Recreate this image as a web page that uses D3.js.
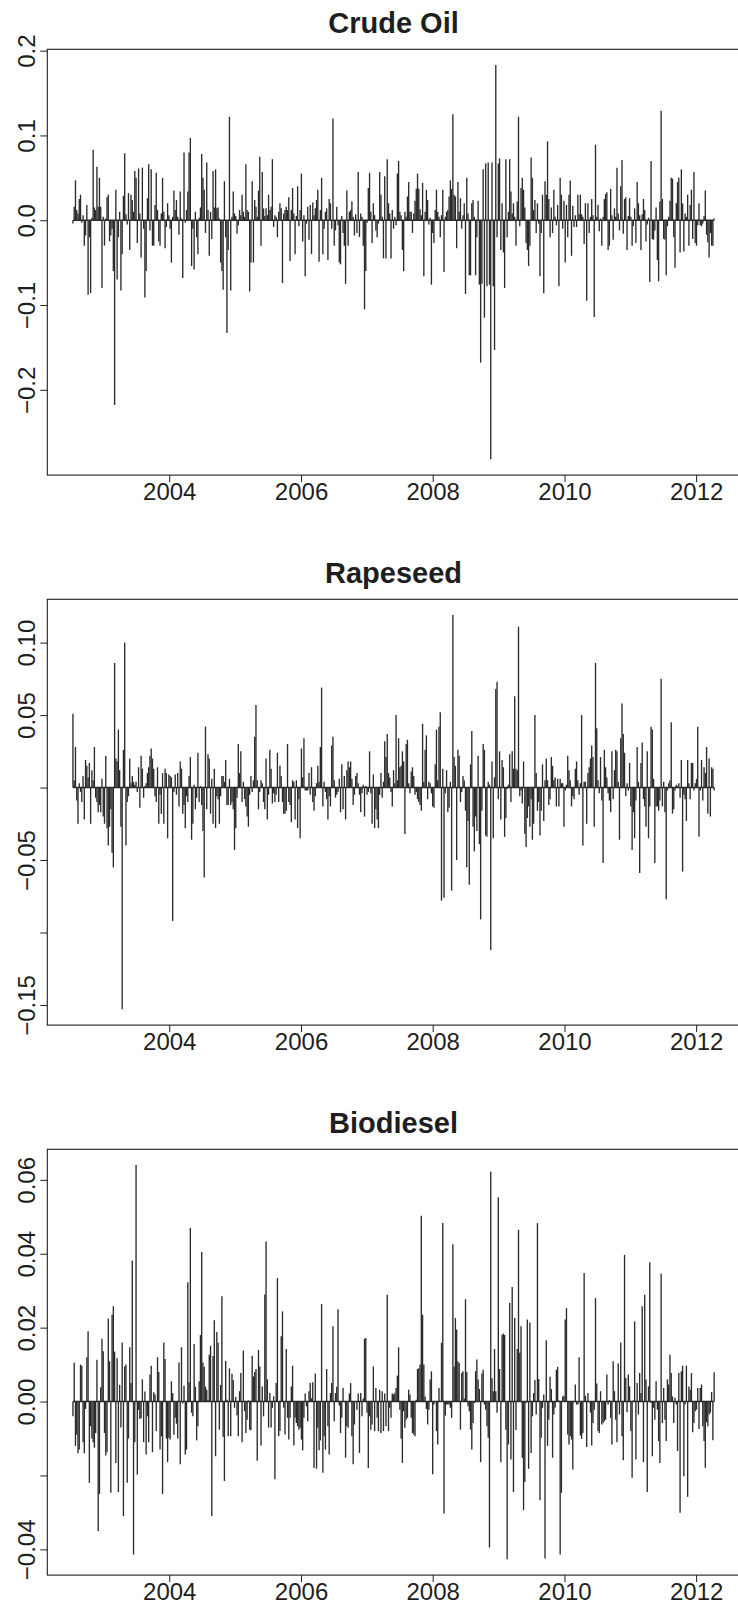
<!DOCTYPE html>
<html><head><meta charset="utf-8">
<script src="https://cdn.jsdelivr.net/npm/d3@7"></script>
<style>body{margin:0;background:#fff}</style>
</head><body>
<svg id="chart" width="738" height="1607"></svg>
<script>
const titles = ["Crude Oil", "Rapeseed", "Biodiesel"];
const startDate = new Date(2002, 6, 16); // first weekly observation

const crudeOil = [
-0.004,0.016,0.047,0.012,0.008,0.025,0.03,-0.003,0.006,-0.03,
-0.018,0.018,-0.088,-0.02,-0.086,0.003,0.083,0.015,0.012,0.063,
0.016,0.05,0.016,-0.08,0.004,-0.03,0.002,0.027,0.03,-0.025,
-0.018,-0.01,-0.06,-0.218,0.036,-0.07,-0.02,0.01,-0.083,-0.04,
0.029,0.079,0.007,-0.005,0.032,-0.035,0.03,0.024,0.01,0.058,
0.05,-0.027,0.061,0.008,-0.044,0.062,-0.01,-0.091,-0.06,0.026,
0.066,-0.012,0.06,-0.03,-0.03,0.018,0.056,0.012,-0.025,-0.03,
0.008,0.05,0.01,-0.033,-0.008,0.02,0.006,-0.01,-0.05,0.004,
0.035,0.012,0.024,0.004,-0.017,0.034,0.002,-0.068,0.08,-0.003,
0.012,0.034,0.08,0.097,-0.054,-0.01,-0.058,0.01,-0.02,-0.04,
0.003,0.015,0.078,0.05,0.036,-0.015,0.068,0.012,-0.042,0.01,
-0.022,0.058,0.015,0.06,0.014,0.015,0.002,-0.05,-0.06,-0.082,
0.046,-0.02,-0.133,-0.035,0.122,-0.083,0.004,0.034,0.008,0.005,
-0.016,-0.006,0.012,0.006,0.03,0.01,0.004,0.066,0.012,0.01,
-0.084,-0.05,0.046,-0.05,0.024,0.016,0.004,0.035,0.075,-0.03,
0.057,0.014,0.005,0.014,0.006,0.03,0.012,0.016,0.072,-0.008,
0.006,0.004,-0.02,0.01,0.02,0.014,-0.074,0.008,0.012,0.016,
0.012,0.027,-0.048,0.012,0.038,0.008,-0.04,0.005,0.04,-0.007,
0.012,0.055,-0.025,0.006,-0.066,-0.004,0.016,-0.023,0.018,-0.04,
0.021,0.006,0.014,0.024,0.036,-0.049,0.012,0.05,-0.04,-0.01,
0.01,0.014,-0.047,0.025,0.02,-0.01,0.12,-0.03,-0.012,0.016,
-0.006,-0.05,-0.052,0.005,-0.015,-0.03,-0.075,0.035,-0.03,0.01,
0.012,0.022,0.004,-0.018,0.007,-0.015,0.057,-0.02,0.008,0.004,
-0.03,-0.105,-0.06,-0.003,0.038,0.056,0.01,-0.027,0.02,0.006,
-0.012,-0.02,-0.004,0.057,0.03,0.004,-0.045,0.052,-0.045,0.072,
0.02,0.008,-0.045,0.012,-0.01,0.004,-0.006,0.055,0.07,0.01,
0.006,-0.035,-0.06,0.01,0.004,0.028,0.045,0.01,0.01,-0.015,
0.008,0.023,0.037,0.055,0.037,0.013,0.006,0.044,-0.066,0.01,
0.036,0.024,-0.005,0.003,-0.076,-0.015,-0.027,0.012,0.036,0.01,
0.004,-0.02,0.006,0.036,-0.061,0.004,0.01,0.012,0.028,0.047,
0.037,0.125,0.03,0.028,-0.033,0.045,0.01,0.026,-0.01,0.006,
0.02,-0.087,0.05,0.008,-0.065,-0.065,0.02,0.024,0.004,-0.065,
-0.02,0.023,-0.076,-0.168,-0.075,0.06,-0.115,0.067,-0.078,0.068,
-0.076,-0.282,0.068,-0.078,-0.153,0.183,-0.02,0.067,0.073,-0.035,
0.02,-0.038,-0.08,0.072,-0.02,0.01,0.072,0.034,0.008,0.02,
0.004,-0.03,0.022,0.122,-0.007,0.038,0.05,0.036,0.015,-0.027,
-0.035,-0.054,-0.03,0.074,0.05,0.012,0.024,-0.015,0.02,-0.004,
-0.066,-0.015,0.03,-0.086,0.046,0.03,0.093,0.025,-0.02,0.015,
-0.015,0.036,0.004,-0.006,0.018,-0.078,0.05,0.03,-0.01,0.023,
-0.05,0.018,-0.02,0.03,0.047,-0.042,0.017,-0.008,0.006,-0.008,
0.03,0.007,0.03,0.007,0.004,-0.028,0.02,-0.095,0.02,-0.015,
0.004,0.025,0.006,-0.114,0.089,0.004,0.018,-0.013,0.002,-0.03,
0.004,0.025,0.031,0.033,-0.035,-0.03,0.037,0.006,-0.023,0.014,
0.004,0.062,0.008,-0.012,0.04,0.071,-0.016,0.025,0.027,-0.035,
0.005,0.026,0.004,-0.03,-0.007,0.014,-0.027,0.045,0.02,0.006,
-0.035,0.007,0.025,0.012,-0.025,-0.005,0.003,-0.073,0.07,-0.022,
-0.023,-0.012,0.015,-0.047,-0.072,0.022,0.129,0.025,-0.022,-0.023,
-0.065,-0.007,0.004,0.023,0.05,0.049,-0.02,-0.056,0.02,0.045,
0.05,-0.038,0.06,0.02,-0.037,0.008,0.004,0.03,-0.03,0.018,
0.036,-0.022,0.057,-0.027,-0.03,-0.006,0.02,-0.006,-0.007,-0.004,
0.005,0.035,-0.017,-0.026,-0.044,-0.015,-0.03,-0.03,0.002
];

const rapeseed = [
0.051,0.005,0.028,-0.009,-0.025,0.003,-0.003,-0.01,0.008,-0.022,
0.019,0.015,0.007,0.017,-0.025,0.012,0.005,0.028,-0.007,-0.01,
-0.017,-0.012,-0.017,0.006,-0.02,-0.025,0.022,-0.028,-0.04,-0.027,
-0.015,-0.045,-0.055,0.086,0.02,0.018,0.04,0.012,-0.027,-0.153,
0.026,0.1,-0.04,-0.01,-0.006,0.02,0.003,0.008,0.004,0.002,
0.004,-0.003,0.014,-0.014,0.022,0.013,-0.007,0.001,0.003,0.01,
0.014,0.022,0.027,0.02,0.013,-0.006,-0.01,0.014,-0.025,-0.005,
-0.018,0.01,-0.025,0.013,0.01,-0.035,0.009,0.008,0.007,-0.092,
-0.003,0.009,-0.005,0.01,-0.013,0.018,0.013,-0.018,-0.012,-0.028,
-0.006,-0.01,0.008,0.021,-0.036,-0.025,0.002,-0.015,-0.007,0.024,
-0.01,0.001,-0.012,-0.03,-0.062,0.042,-0.015,0.023,0.02,-0.018,
0.006,-0.025,0.013,-0.028,-0.006,-0.008,-0.025,-0.006,0.008,0.008,
0.004,0.019,-0.012,-0.012,0.006,-0.012,-0.01,-0.015,-0.043,-0.028,
-0.007,0.03,0.01,0.025,-0.01,0.004,-0.008,-0.013,-0.02,-0.027,
-0.005,0.008,-0.003,0.005,0.035,0.057,0.005,-0.015,-0.003,0.005,
0.003,-0.01,-0.015,0.02,-0.022,-0.005,0.026,0.013,-0.011,-0.004,
-0.01,-0.005,0.024,-0.01,0.015,0.008,-0.01,-0.018,-0.018,-0.016,
0.03,-0.01,-0.012,-0.024,0.005,0.004,-0.022,0.005,-0.028,-0.008,
-0.035,0.027,0.007,0.034,-0.002,-0.002,-0.002,0.01,-0.005,0.014,
-0.01,-0.016,-0.006,0.003,0.015,0.004,0.028,0.069,-0.013,0.004,
-0.003,-0.008,-0.022,-0.006,-0.013,0.029,0.035,0.005,-0.007,-0.005,
-0.003,0.006,-0.017,0.016,-0.015,0.008,-0.022,0.012,0.018,0.014,
0.018,0.006,-0.012,-0.005,0.008,0.01,0.003,-0.005,-0.017,-0.004,
0.002,-0.02,0.001,-0.005,-0.003,0.025,-0.004,-0.025,0.009,-0.028,
-0.015,-0.022,-0.028,-0.005,0.01,-0.007,0.004,0.032,0.021,0.037,
0.01,0.007,-0.003,-0.013,0.012,0.003,0.05,0.005,0.034,0.014,
0.015,0.025,0.018,-0.032,0.03,0.033,0.003,-0.004,0.011,0.014,
0.008,-0.005,-0.003,-0.008,-0.01,-0.012,-0.016,0.044,0.004,0.026,
0.036,-0.008,0.004,0.003,-0.004,-0.013,-0.014,0.016,0.04,0.005,
0.042,0.052,-0.078,0.013,-0.076,-0.004,0.012,-0.017,-0.014,0.004,
-0.071,0.119,0.021,0.015,-0.05,0.026,0.022,-0.01,-0.003,0.008,
0.005,-0.016,-0.055,-0.023,-0.067,0.016,0.039,-0.027,-0.044,-0.02,
-0.03,0.022,-0.039,-0.091,-0.016,0.03,0.026,-0.033,-0.034,0.004,
0.002,-0.112,0.018,-0.035,0.007,0.068,0.073,-0.008,0.025,-0.022,
0.019,0.014,-0.034,-0.021,-0.001,0.002,0.023,-0.01,0.025,0.013,
0.063,0.013,0.012,0.111,-0.006,-0.002,-0.011,0.018,-0.032,-0.041,
-0.021,-0.013,-0.027,-0.008,-0.036,-0.025,0.05,0.01,-0.016,-0.01,
-0.033,-0.016,0.016,-0.023,0.005,0.02,0.005,-0.012,-0.008,0.021,
0.015,0.005,0.007,-0.013,0.006,-0.013,0.006,0.003,0.003,-0.027,
-0.002,0.002,0.022,0.012,0.005,-0.013,-0.006,-0.008,0.013,0.018,
0.005,-0.005,0.003,0.05,-0.04,0.004,0.004,-0.025,0.01,0.014,
0.02,0.029,0.021,-0.027,0.086,0.041,0.005,-0.004,0.021,-0.009,
-0.052,0.026,0.014,0.007,-0.004,-0.009,-0.017,0.025,-0.008,0.012,
0.026,0.025,0.004,-0.036,0.034,0.058,0.037,0.024,-0.006,0.003,
-0.002,0.017,-0.013,-0.043,-0.017,-0.035,-0.009,0.028,0.004,-0.059,
0.017,0.031,-0.008,-0.013,-0.027,0.025,-0.035,-0.013,0.042,0.04,
0.006,-0.052,-0.013,-0.013,-0.016,-0.009,0.075,-0.013,0.004,-0.017,
-0.077,-0.002,0.003,0.005,0.045,-0.018,-0.015,-0.002,0.002,0.001,
0.003,-0.007,0.019,-0.058,-0.005,-0.008,-0.023,0.019,0.003,-0.008,
0.017,0.017,-0.002,0.003,0.006,0.042,-0.034,-0.002,0.019,-0.009,
0.014,0.01,0.028,-0.018,0.02,-0.02,0.014,0.013,-0.002
];

const biodiesel = [
-0.004,0.0105,-0.012,-0.009,-0.014,-0.013,0.01,0.0097,-0.011,-0.014,
-0.002,0.012,0.019,-0.022,-0.0067,-0.01,-0.011,-0.0125,-0.0085,0.0113,
-0.035,-0.025,0.0039,0.017,0.0136,-0.0085,-0.0146,-0.0137,0.0225,0.0109,
-0.0247,0.0235,0.0258,0.0135,-0.0166,0.0117,-0.0245,0.0045,-0.007,0.016,
-0.031,0.0095,0.01,-0.022,-0.01,0.0147,0.005,0.0382,-0.0414,-0.011,
0.064,-0.0198,-0.0023,-0.0047,-0.0045,0.006,-0.011,0.0027,-0.0143,-0.004,
-0.011,0.0073,0.0097,-0.0137,0.0025,0.0019,-0.008,0.012,0.008,-0.013,
-0.0094,-0.025,0.016,0.0115,-0.01,-0.0164,-0.0098,-0.0103,0.0055,0.0023,
-0.009,-0.0044,-0.006,-0.01,0.0106,-0.017,0.0147,-0.0005,0.0043,-0.0143,
-0.013,0.0323,0.0052,0.047,-0.003,-0.004,0.0156,0.004,-0.0105,-0.0067,
0.0055,0.018,0.0405,0.0106,0.0094,0.004,0.0032,0.0005,0.0127,0.0151,
-0.031,0.0123,0.022,-0.0148,0.0188,0.0159,-0.0076,0.0045,0.0285,-0.0095,
-0.0215,0.011,0.0005,-0.0094,0.009,-0.0094,0.0075,0.0058,-0.0017,0.0012,
-0.0037,-0.0094,0.0028,0.0077,-0.011,0.0138,-0.0026,-0.0085,-0.0049,0.0003,
-0.0076,-0.0078,0.0124,0.0068,0.008,0.0088,-0.016,0.014,0.0095,-0.0119,
0.0041,-0.004,0.029,0.0433,0.006,-0.007,0.0023,-0.007,-0.0017,0.0014,
-0.021,0.005,0.0334,-0.0094,-0.008,0.0177,0.0244,-0.0017,-0.0089,0.0142,
-0.0044,-0.0103,-0.0044,0.0041,0.0097,-0.0119,-0.0044,-0.0058,-0.0067,-0.0076,
-0.0071,-0.0103,-0.0132,-0.0044,0.0022,-0.0013,-0.0053,0.0028,0.005,0.0009,
0.0052,-0.018,0.0076,-0.0182,-0.0071,-0.0132,-0.0105,0.0264,-0.0193,-0.0094,
-0.013,0.0088,-0.0067,-0.0143,0.0023,0.005,0.0204,-0.0053,0.0023,0.004,
0.025,-0.0011,-0.0085,-0.0044,0.0037,-0.0002,-0.0152,-0.0067,-0.0071,0.0022,
0.005,-0.0094,-0.017,-0.0062,0.0001,-0.0022,0.0022,-0.0139,0.0023,-0.004,
0.0008,0.017,0.0172,-0.003,-0.018,-0.004,-0.0076,-0.0062,0.0095,-0.008,
0.0037,-0.0044,-0.008,0.0032,-0.0085,0.0028,-0.008,0.0022,-0.0067,0.0289,
-0.008,-0.0017,-0.0044,0.0022,0.0019,0.0023,0.0037,0.007,0.0147,-0.0022,
-0.0101,-0.0166,-0.0026,-0.0071,-0.0049,-0.0044,0.0032,0.0019,-0.0044,-0.0085,
-0.0089,-0.0094,0.0005,0.0088,0.009,0.01,0.0503,0.0235,0.01,0.0014,
-0.002,-0.0062,-0.0022,0.006,0.0082,-0.0197,-0.0008,0.0001,-0.008,-0.0116,
0.0037,0.0001,0.0159,0.0483,-0.0303,-0.0038,-0.0008,-0.0008,-0.0008,-0.0017,
-0.0044,0.0426,0.0095,0.0226,0.0195,0.0109,0.0104,-0.0076,0.0077,0.0082,
0.0008,0.0277,0.008,-0.0013,-0.0026,-0.0076,-0.013,-0.0058,-0.0004,0.0082,
0.0114,0.006,0.0034,-0.0164,0.0076,0.0086,-0.0008,-0.0022,-0.0067,-0.0098,
-0.0395,0.0622,0.0063,0.0028,0.0142,0.0028,-0.003,0.0553,0.0088,-0.0164,
0.0181,0.0184,0.018,-0.0076,-0.0427,-0.0116,0.0267,-0.0157,0.031,-0.0245,
0.0226,-0.0077,0.0142,0.0465,0.0132,0.0204,-0.0152,-0.0294,-0.0218,-0.0004,
0.0222,-0.0182,0.0214,-0.0139,-0.004,0.0023,0.0058,-0.0035,0.0483,0.0061,
-0.0267,-0.0098,-0.0017,0.0019,-0.0425,0.0166,-0.012,-0.0049,0.0067,0.0034,
-0.0152,-0.0035,-0.0017,0.0086,0.0094,0.0003,-0.0414,-0.0247,0.0014,0.0016,
0.0222,0.0253,-0.0089,-0.0116,-0.0094,-0.0103,-0.0184,-0.0002,0.0046,-0.0008,
-0.0008,0.012,-0.0092,-0.0101,-0.0085,0.0348,0.0016,-0.0123,0.0023,-0.0002,
-0.003,-0.0119,-0.0058,-0.0022,0.028,0.0049,-0.008,-0.0085,0.0028,-0.0062,
-0.0058,-0.0053,-0.0049,0.0073,-0.0008,0.0004,-0.0044,-0.0116,0.0109,0.0028,
-0.0049,-0.011,0.0103,-0.0035,0.016,-0.0094,-0.0159,0.0397,0.0064,-0.0029,
0.0073,0.0041,-0.008,-0.0206,0.0003,0.0217,-0.0157,0.005,-0.0035,0.0077,
0.0023,0.0258,-0.0164,0.0289,0.006,-0.0245,0.0041,0.0377,-0.0004,-0.0148,
-0.0017,-0.0049,0.0055,-0.0022,-0.0107,-0.0166,0.0346,-0.0058,0.0037,-0.0049,
-0.0107,0.006,0.0046,0.0127,0.0077,0.0014,-0.0058,0.001,-0.0008,-0.0134,
0.0077,-0.0301,0.0082,0.0097,-0.0202,-0.0008,0.0097,-0.0258,0.0041,0.0032,
0.0077,-0.0083,-0.0058,-0.0026,-0.0022,0.0037,-0.0074,0.0037,0.0046,-0.0067,
-0.0107,-0.0179,-0.0056,-0.0067,-0.0035,-0.003,0.0026,-0.0105,0.0079
];

const xTickYears = [2004, 2006, 2008, 2010, 2012];
const crudeTicks = [-0.2, -0.1, 0, 0.1, 0.2];
const crudeTickLabels = ["\u22120.2", "\u22120.1", "0.0", "0.1", "0.2"];
const rapeTicks = [-0.15, -0.10, -0.05, 0, 0.05, 0.10];
const rapeTickLabels = ["\u22120.15", "", "\u22120.05", "", "0.05", "0.10"];
const bioTicks = [-0.04, -0.02, 0, 0.02, 0.04, 0.06];
const bioTickLabels = ["\u22120.04", "", "0.00", "0.02", "0.04", "0.06"];

const panels = [
  {title: titles[0], values: crudeOil, ticks: crudeTicks, labels: crudeTickLabels},
  {title: titles[1], values: rapeseed, ticks: rapeTicks, labels: rapeTickLabels},
  {title: titles[2], values: biodiesel, ticks: bioTicks, labels: bioTickLabels}
];

const svg = d3.select("#chart");
svg.append("rect").attr("width", 738).attr("height", 1607).attr("fill", "#fff");

const FONT = "'Liberation Sans', Arial, Helvetica, sans-serif";
const INK = "#1e1e1e";
const BAR = "#2b2b2b";
const left = 47.3, right = 739.8, plotH = 425.8, firstTop = 49.3, panelStep = 550;

const nObs = d3.max(panels, p => p.values.length);
const endDate = d3.timeWeek.offset(startDate, nObs - 1);
const spanMs = endDate - startDate;
const x = d3.scaleTime()
  .domain([new Date(+startDate - 0.04 * spanMs), new Date(+endDate + 0.04 * spanMs)])
  .range([left, right]);

panels.forEach((p, k) => {
  const top = firstTop + k * panelStep;
  const bottom = top + plotH;
  const [mn, mx] = d3.extent(p.values);
  const pad = 0.04 * (mx - mn);
  const y = d3.scaleLinear().domain([mn - pad, mx + pad]).range([bottom, top]);
  const g = svg.append("g");
  const data = p.values.map((v, i) => ({date: d3.timeWeek.offset(startDate, i), v}));

  // vertical "h" bars
  g.append("g").selectAll("line").data(data).join("line")
    .attr("x1", d => x(d.date)).attr("x2", d => x(d.date))
    .attr("y1", y(0)).attr("y2", d => y(d.v))
    .attr("stroke", BAR).attr("stroke-width", 1.35);

  // zero baseline across the data
  g.append("line")
    .attr("x1", x(data[0].date)).attr("x2", x(data[data.length - 1].date))
    .attr("y1", y(0)).attr("y2", y(0))
    .attr("stroke", BAR).attr("stroke-width", 1.4);

  // box
  g.append("rect")
    .attr("x", left).attr("y", top).attr("width", right - left).attr("height", plotH)
    .attr("fill", "none").attr("stroke", INK).attr("stroke-width", 1.1);

  // x axis
  const xa = g.append("g").attr("transform", `translate(0,${bottom})`)
    .call(d3.axisBottom(x)
      .tickValues(xTickYears.map(yr => new Date(yr, 0, 1)))
      .tickFormat(d3.timeFormat("%Y"))
      .tickSize(7).tickPadding(0));
  xa.select(".domain").remove();
  xa.selectAll(".tick line").attr("stroke", INK);
  xa.selectAll(".tick text")
    .attr("y", 25).attr("dy", null)
    .attr("font-family", FONT).attr("font-size", 24).attr("fill", INK);

  // y axis
  const ya = g.append("g").attr("transform", `translate(${left},0)`)
    .call(d3.axisLeft(y).tickValues(p.ticks)
      .tickFormat((d, i) => p.labels[i]).tickSize(7));
  ya.select(".domain").remove();
  ya.selectAll(".tick line").attr("stroke", INK);
  ya.selectAll(".tick text")
    .attr("x", null).attr("y", null).attr("dy", null)
    .attr("text-anchor", "middle")
    .attr("transform", "translate(-12.8,0) rotate(-90)")
    .attr("font-family", FONT).attr("font-size", 24).attr("fill", INK);

  // title
  g.append("text")
    .attr("x", (left + right) / 2).attr("y", top - 16)
    .attr("text-anchor", "middle")
    .attr("font-family", FONT).attr("font-weight", "bold").attr("font-size", 29)
    .attr("fill", INK)
    .text(p.title);
});
</script>
</body></html>
